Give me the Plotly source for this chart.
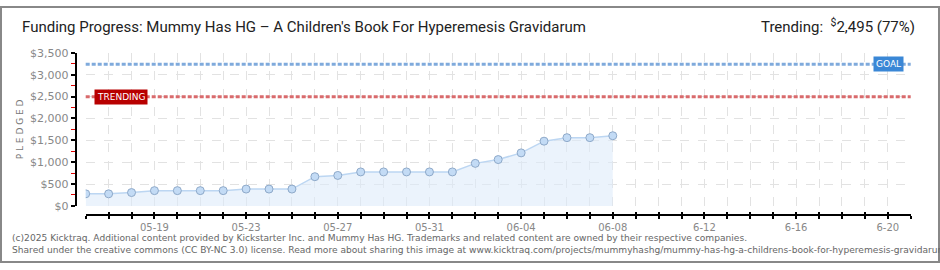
import plotly.graph_objects as go

# ---- data ----
dates = ["2025-05-16", "2025-05-17", "2025-05-18", "2025-05-19", "2025-05-20", "2025-05-21",
         "2025-05-22", "2025-05-23", "2025-05-24", "2025-05-25", "2025-05-26", "2025-05-27",
         "2025-05-28", "2025-05-29", "2025-05-30", "2025-05-31", "2025-06-01", "2025-06-02",
         "2025-06-03", "2025-06-04", "2025-06-05", "2025-06-06", "2025-06-07", "2025-06-08"]
pledged = [276, 276, 305, 349, 349, 349, 349, 385, 385, 385, 668, 697,
           777, 777, 777, 777, 777, 973, 1060, 1213, 1481, 1561, 1561, 1605]
goal = 3240
trending = 2495
trending_pct = 77

axis_start = "2025-05-16"
axis_end = "2025-06-21"
tick_label_dates = ["2025-05-19", "2025-05-23", "2025-05-27", "2025-05-31", "2025-06-04",
                    "2025-06-08", "2025-06-12", "2025-06-16", "2025-06-20"]
tick_labels = ["05-19", "05-23", "05-27", "05-31", "06-04", "06-08", "6-12", "6-16", "6-20"]

title = "Funding Progress: Mummy Has HG – A Children's Book For Hyperemesis Gravidarum"
footer1 = ("(c)2025 Kicktraq. Additional content provided by Kickstarter Inc. and Mummy Has HG. "
           "Trademarks and related content are owned by their respective companies.")
footer2 = ("Shared under the creative commons (CC BY-NC 3.0) license. Read more about sharing this image at "
           "www.kicktraq.com/projects/mummyhashg/mummy-has-hg-a-childrens-book-for-hyperemesis-gravidarum/")

W, H = 940, 270
def px(x): return x / W
def py(y): return 1 - y / H

DAY_MS = 86400000

fig = go.Figure()
fig.add_trace(go.Scatter(
    x=dates, y=pledged, mode="lines+markers", fill="tozeroy",
    fillcolor="rgba(222,235,250,0.6)",
    line=dict(color="#bcd6f2", width=1.5),
    marker=dict(size=8, color="#c3dbf5", line=dict(color="#8ea9c9", width=1)),
    hoverinfo="x+y", showlegend=False))
# invisible trace on overlay axis for cross ticks
fig.add_trace(go.Scatter(x=[axis_start], y=[0], xaxis="x2", mode="markers",
                         marker=dict(opacity=0), showlegend=False, hoverinfo="skip"))

xdom = [px(85.7), px(910.7)]
ydom = [py(210), py(49.3)]
grid_style = dict(showgrid=True, gridcolor="#e2e2e2", griddash="dash", gridwidth=1)
fig.update_layout(
    width=W, height=H, margin=dict(l=0, r=0, t=0, b=0),
    paper_bgcolor="white", plot_bgcolor="white",
    xaxis=dict(domain=xdom, range=[axis_start, axis_end], type="date",
               anchor="free", position=py(220),
               tickmode="array", tickvals=tick_label_dates, ticktext=tick_labels,
               ticks="outside", ticklen=3, tickwidth=1.5, tickcolor="black",
               showline=True, linecolor="black", linewidth=1.5,
               zeroline=False,
               minor=dict(tick0=axis_start, dtick=DAY_MS, ticks="outside", ticklen=3,
                          tickwidth=1.5, tickcolor="black", **grid_style),
               tickfont=dict(family="DejaVu Sans", size=10, color="#888888"),
               **grid_style),
    xaxis2=dict(domain=xdom, range=[axis_start, axis_end], type="date",
                overlaying="x", anchor="free", position=py(220),
                tickmode="array", tickvals=tick_label_dates, showticklabels=False,
                ticks="inside", ticklen=3, tickwidth=1.5, tickcolor="black",
                minor=dict(tick0=axis_start, dtick=DAY_MS, ticks="inside", ticklen=3,
                           tickwidth=1.5, tickcolor="black", showgrid=False),
                showline=False, showgrid=False, zeroline=False),
    yaxis=dict(domain=ydom, range=[0, 3500], anchor="free", position=px(75.5),
               tickmode="linear", tick0=0, dtick=500,
               tickprefix="$", tickformat=",",
               ticks="outside", ticklen=4, tickwidth=1.5, tickcolor="black",
               showline=True, linecolor="black", linewidth=1.5,
               zeroline=False,
               minor=dict(dtick=250, tick0=250, ticks="outside", ticklen=4,
                          tickcolor="#e00000", tickwidth=1.2, showgrid=False),
               tickfont=dict(family="DejaVu Sans", size=11, color="#888888"),
               title=dict(text="P L E D G E D", standoff=4,
                          font=dict(family="DejaVu Sans", size=9, color="#777777")),
               **grid_style),
    shapes=[
        dict(type="line", xref="paper", yref="y", x0=xdom[0], x1=xdom[1], y0=goal, y1=goal,
             line=dict(color="#7faadc", width=3, dash="4px,2px"), layer="above"),
        dict(type="line", xref="paper", yref="y", x0=xdom[0], x1=xdom[1], y0=trending, y1=trending,
             line=dict(color="#d96a6c", width=3, dash="4px,2px"), layer="above"),
        dict(type="rect", xref="paper", yref="paper", x0=px(1), x1=px(939), y0=py(269), y1=py(1),
             line=dict(color="#888888", width=2), fillcolor="rgba(0,0,0,0)"),
    ],
    annotations=[
        dict(text=title, xref="paper", yref="paper", x=px(20), y=py(22), xanchor="left",
             yanchor="middle", showarrow=False,
             font=dict(family="Roboto", size=15, color="#222222")),
        dict(text=f"Trending:  <sup>$</sup>{trending:,} ({trending_pct}%)", xref="paper", yref="paper",
             x=px(917), y=py(21), xanchor="right", yanchor="middle", showarrow=False,
             font=dict(family="Roboto", size=15, color="#222222")),
        dict(text="GOAL", xref="paper", yref="y", x=px(888), y=goal, xanchor="center",
             yanchor="middle", showarrow=False, bgcolor="#3a87d6", borderpad=2,
             font=dict(family="DejaVu Sans", size=9, color="white")),
        dict(text="TRENDING", xref="paper", yref="y", x=px(121), y=trending, xanchor="center",
             yanchor="middle", showarrow=False, bgcolor="#b80000", borderpad=2,
             font=dict(family="DejaVu Sans", size=9, color="white")),
        dict(text=footer1, xref="paper", yref="paper", x=px(10), y=py(244), xanchor="left",
             yanchor="middle", showarrow=False,
             font=dict(family="DejaVu Sans", size=9.1, color="#666666")),
        dict(text=footer2, xref="paper", yref="paper", x=px(10), y=py(256), xanchor="left",
             yanchor="middle", showarrow=False,
             font=dict(family="DejaVu Sans", size=9.1, color="#666666")),
    ],
)
fig.write_html("out.html")
